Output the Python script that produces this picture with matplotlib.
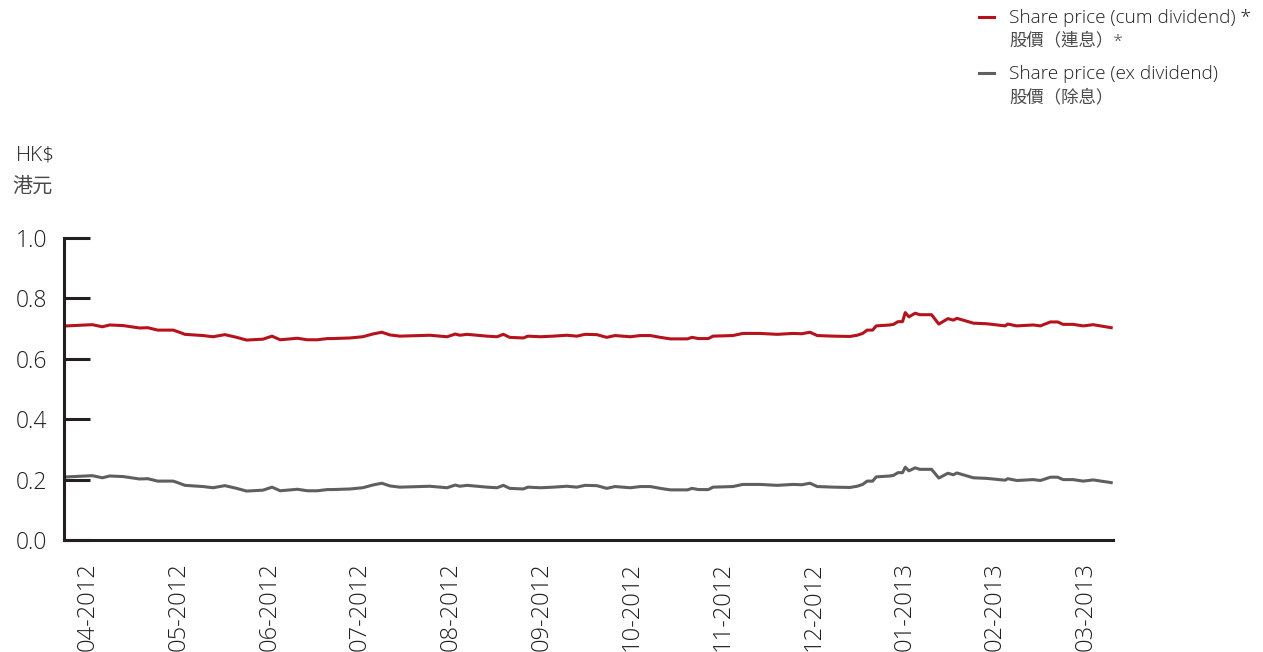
import matplotlib
matplotlib.use("Agg")
import matplotlib.pyplot as plt

plt.rcParams['font.family'] = ['Open Sans', 'Noto Sans CJK TC', 'DejaVu Sans']
plt.rcParams['font.weight'] = 'light'

# months since start of April 2012
months = [0.00, 0.28, 0.39, 0.47, 0.62, 0.80, 0.89, 1.00, 1.17, 1.22,
          1.30, 1.50, 1.61, 1.74, 1.87, 1.98, 2.16, 2.26, 2.35, 2.54,
          2.65, 2.76, 2.87, 2.93, 3.12, 3.26, 3.37, 3.47, 3.56, 3.67,
          3.89, 4.00, 4.19, 4.28, 4.33, 4.41, 4.63, 4.74, 4.81, 4.88,
          5.03, 5.08, 5.22, 5.36, 5.51, 5.62, 5.71, 5.84, 5.95, 6.04,
          6.21, 6.32, 6.43, 6.54, 6.65, 6.84, 6.89, 6.96, 7.07, 7.12,
          7.34, 7.45, 7.64, 7.83, 8.00, 8.10, 8.19, 8.27, 8.45, 8.63,
          8.71, 8.77, 8.82, 8.88, 8.92, 9.07, 9.11, 9.16, 9.21, 9.24,
          9.28, 9.35, 9.40, 9.53, 9.61, 9.71, 9.77, 9.81, 9.99, 10.14,
          10.34, 10.37, 10.47, 10.65, 10.73, 10.84, 10.92, 10.98, 11.09, 11.20,
          11.26, 11.31, 11.51]

cum_div = [0.709, 0.713, 0.706, 0.712, 0.710, 0.702, 0.703, 0.695, 0.695, 0.690,
           0.681, 0.677, 0.673, 0.680, 0.671, 0.662, 0.665, 0.675, 0.663, 0.668,
           0.663, 0.663, 0.667, 0.667, 0.669, 0.673, 0.682, 0.688, 0.679, 0.675,
           0.677, 0.678, 0.673, 0.682, 0.678, 0.681, 0.675, 0.673, 0.681, 0.671,
           0.669, 0.675, 0.673, 0.675, 0.678, 0.675, 0.681, 0.680, 0.671, 0.677,
           0.673, 0.677, 0.677, 0.671, 0.666, 0.666, 0.671, 0.667, 0.667, 0.675,
           0.677, 0.684, 0.684, 0.681, 0.684, 0.683, 0.688, 0.677, 0.675, 0.674,
           0.678, 0.684, 0.695, 0.695, 0.709, 0.712, 0.714, 0.723, 0.723, 0.753,
           0.739, 0.751, 0.746, 0.746, 0.715, 0.733, 0.728, 0.734, 0.718, 0.716,
           0.709, 0.715, 0.709, 0.712, 0.709, 0.722, 0.722, 0.714, 0.714, 0.709,
           0.711, 0.713, 0.703]

ex_div = [0.209, 0.213, 0.206, 0.212, 0.210, 0.202, 0.203, 0.195, 0.195, 0.190,
          0.181, 0.177, 0.173, 0.180, 0.171, 0.162, 0.165, 0.175, 0.163, 0.168,
          0.163, 0.163, 0.167, 0.167, 0.169, 0.173, 0.182, 0.188, 0.179, 0.175,
          0.177, 0.178, 0.173, 0.182, 0.178, 0.181, 0.175, 0.173, 0.181, 0.171,
          0.169, 0.175, 0.173, 0.175, 0.178, 0.175, 0.181, 0.180, 0.171, 0.177,
          0.173, 0.177, 0.177, 0.171, 0.166, 0.166, 0.171, 0.167, 0.167, 0.175,
          0.177, 0.184, 0.184, 0.181, 0.184, 0.183, 0.188, 0.177, 0.175, 0.174,
          0.178, 0.184, 0.195, 0.195, 0.209, 0.212, 0.214, 0.223, 0.223, 0.241,
          0.229, 0.239, 0.234, 0.234, 0.205, 0.221, 0.216, 0.222, 0.206, 0.204,
          0.198, 0.203, 0.197, 0.200, 0.197, 0.208, 0.208, 0.200, 0.200, 0.195,
          0.197, 0.199, 0.190]

tick_labels = ['04-2012', '05-2012', '06-2012', '07-2012', '08-2012', '09-2012',
               '10-2012', '11-2012', '12-2012', '01-2013', '02-2013', '03-2013']
y_ticks = [0.0, 0.2, 0.4, 0.6, 0.8, 1.0]

red = '#b5121b'
grey = '#5f5f5f'
dark = '#231f20'
txt = '#231f20'
cjk = '#4a4a4a'

fig = plt.figure(figsize=(12.63, 6.52), dpi=100)
ax = fig.add_axes([64/1263, 1-540/652, (1113-64)/1263, (540-238)/652])

ax.plot(months, cum_div, color=red, lw=2.2, solid_joinstyle='round')
ax.plot(months, ex_div, color=grey, lw=2.2, solid_joinstyle='round')

ax.set_xlim(-0.033, 11.53)
ax.set_ylim(0, 1.0)

for s in ['top', 'right']:
    ax.spines[s].set_visible(False)
for s in ['left', 'bottom']:
    ax.spines[s].set_color(dark)
    ax.spines[s].set_linewidth(2.2)

ax.set_yticks(y_ticks)
ax.set_yticklabels(['%.1f' % v for v in y_ticks])
ax.tick_params(axis='y', direction='in', length=19, width=2.2, color=dark,
               pad=12, labelsize=16.5, labelcolor=txt)

ax.set_xticks([0.23 + i for i in range(len(tick_labels))])
ax.set_xticklabels(tick_labels, rotation=90)
ax.tick_params(axis='x', length=0, pad=16, labelsize=17, labelcolor=txt)

# unit label
fig.text(35/1263, 1-156/652, 'HK$', ha='center', va='center', fontsize=15, color=txt)
fig.text(32/1263, 1-187/652, '港元', ha='center', va='center', fontsize=14.5, color=cjk)

# legend
fig.lines.append(plt.Line2D([979/1263, 994/1263], [1-17/652, 1-17/652],
                            transform=fig.transFigure, color=red, lw=2.2))
fig.lines.append(plt.Line2D([979/1263, 994/1263], [1-73/652, 1-73/652],
                            transform=fig.transFigure, color=grey, lw=2.2))
fig.text(1009/1263, 1-18/652, 'Share price (cum dividend) *', ha='left', va='center',
         fontsize=13.7, color=txt)
fig.text(1009/1263, 1-41/652, '股價（連息）*', ha='left', va='center',
         fontsize=12.5, color=cjk)
fig.text(1009/1263, 1-74/652, 'Share price (ex dividend)', ha='left', va='center',
         fontsize=13.7, color=txt)
fig.text(1009/1263, 1-98/652, '股價（除息）', ha='left', va='center',
         fontsize=12.5, color=cjk)

fig.savefig('out.png', dpi=100)
